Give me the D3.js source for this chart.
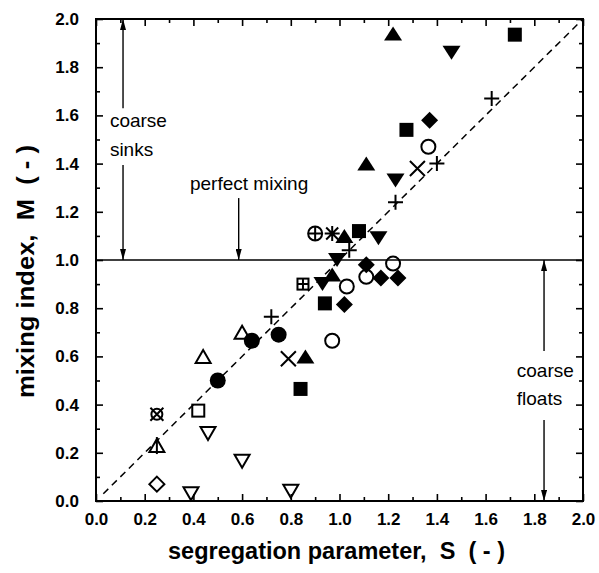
<!DOCTYPE html>
<html>
<head>
<meta charset="utf-8">
<script src="https://cdn.jsdelivr.net/npm/d3@7"></script>
<style>
  body { margin: 0; background: #fff; }
  svg { font-family: Arial, "Liberation Sans", sans-serif; }
</style>
</head>
<body>
<svg id="chart"></svg>
<script>
// tick values
const xTicks = [0, 0.2, 0.4, 0.6, 0.8, 1.0, 1.2, 1.4, 1.6, 1.8, 2.0];
const yTicks = [0, 0.2, 0.4, 0.6, 0.8, 1.0, 1.2, 1.4, 1.6, 1.8, 2.0];
const minorTicks = [0.1, 0.3, 0.5, 0.7, 0.9, 1.1, 1.3, 1.5, 1.7, 1.9];

// data points [S, M] per marker type
const filledSquare = [[0.84, 0.465], [0.94, 0.82], [1.08, 1.12], [1.275, 1.54], [1.72, 1.935]];
const filledCircle = [[0.5, 0.5], [0.64, 0.665], [0.75, 0.69]];
const filledTriUp = [[0.86, 0.6], [0.97, 0.94], [1.02, 1.10], [1.11, 1.40], [1.22, 1.94]];
const filledTriDown = [[0.93, 0.9], [0.99, 1.0], [1.16, 1.09], [1.23, 1.33], [1.46, 1.86]];
const filledDiamond = [[1.02, 0.815], [1.11, 0.98], [1.17, 0.925], [1.24, 0.925], [1.37, 1.58]];
const openCircle = [[0.97, 0.665], [1.03, 0.89], [1.11, 0.93], [1.22, 0.985], [1.365, 1.47]];
const openTriUp = [[0.44, 0.6], [0.6, 0.70]];
const openTriUpLine = [[0.25, 0.23]];
const openTriDown = [[0.39, 0.03], [0.46, 0.28], [0.6, 0.165], [0.8, 0.04]];
const openDiamond = [[0.25, 0.07]];
const openSquare = [[0.42, 0.375]];
const squarePlus = [[0.85, 0.90]];
const circlePlus = [[0.9, 1.11]];
const circleCross = [[0.25, 0.36]];
const asterisk = [[0.97, 1.11]];
const plusMark = [[0.72, 0.765], [1.04, 1.04], [1.23, 1.24], [1.40, 1.40], [1.625, 1.67]];
const crossMark = [[0.79, 0.59], [1.32, 1.38]];

// annotation arrows: x, from, to (head at "to")
const arrows = [
  { x: 0.111, from: 1.63, to: 2.0 },
  { x: 0.111, from: 1.394, to: 1.0 },
  { x: 0.586, from: 1.257, to: 1.0 },
  { x: 1.84, from: 0.622, to: 1.0 },
  { x: 1.84, from: 0.336, to: 0.0 }
];
const notes = [
  { text: "coarse", x: 0.057, y: 1.552 },
  { text: "sinks", x: 0.057, y: 1.432 },
  { text: "perfect mixing", x: 0.386, y: 1.29 },
  { text: "coarse", x: 1.728, y: 0.516 },
  { text: "floats", x: 1.728, y: 0.398 }
];

const margin = { top: 19, right: 16, bottom: 72, left: 96 };
const width = 599 - margin.left - margin.right;
const height = 573 - margin.top - margin.bottom;

const root = d3.select("#chart")
    .attr("width", 599)
    .attr("height", 573);

const svg = root.append("g")
    .attr("transform", `translate(${margin.left},${margin.top})`);

const x = d3.scaleLinear().domain([0, 2]).range([0, width]);
const y = d3.scaleLinear().domain([0, 2]).range([height, 0]);
const fmt = d3.format(".1f");

// axes, ticks pointing inward on all four sides
function styleAxis(g) {
    g.select(".domain").remove();
    g.selectAll("line").attr("stroke", "#000").attr("stroke-width", 1.6);
    g.selectAll("text")
        .attr("fill", "#000")
        .style("font-size", "17px")
        .style("font-weight", "bold")
        .style("font-family", "Arial, 'Liberation Sans', sans-serif");
}

svg.append("g")
    .attr("transform", `translate(0,${height})`)
    .call(d3.axisBottom(x).tickValues(xTicks).tickFormat(fmt).tickSizeInner(-7).tickSizeOuter(0).tickPadding(12))
    .call(styleAxis);
svg.append("g")
    .attr("transform", `translate(0,${height})`)
    .call(d3.axisBottom(x).tickValues(minorTicks).tickFormat("").tickSizeInner(-4).tickSizeOuter(0))
    .call(styleAxis);
svg.append("g")
    .call(d3.axisLeft(y).tickValues(yTicks).tickFormat(fmt).tickSizeInner(-7).tickSizeOuter(0).tickPadding(17))
    .call(styleAxis);
svg.append("g")
    .call(d3.axisLeft(y).tickValues(minorTicks).tickFormat("").tickSizeInner(-4).tickSizeOuter(0))
    .call(styleAxis);
svg.append("g")
    .call(d3.axisTop(x).tickValues(xTicks).tickFormat("").tickSizeInner(-7).tickSizeOuter(0))
    .call(styleAxis);
svg.append("g")
    .call(d3.axisTop(x).tickValues(minorTicks).tickFormat("").tickSizeInner(-4).tickSizeOuter(0))
    .call(styleAxis);
svg.append("g")
    .attr("transform", `translate(${width},0)`)
    .call(d3.axisRight(y).tickValues(yTicks).tickFormat("").tickSizeInner(-7).tickSizeOuter(0))
    .call(styleAxis);
svg.append("g")
    .attr("transform", `translate(${width},0)`)
    .call(d3.axisRight(y).tickValues(minorTicks).tickFormat("").tickSizeInner(-4).tickSizeOuter(0))
    .call(styleAxis);

svg.append("rect")
    .attr("width", width)
    .attr("height", height)
    .attr("fill", "none")
    .attr("stroke", "#000")
    .attr("stroke-width", 2);

// perfect mixing line and M = S diagonal
svg.append("line")
    .attr("x1", x(0)).attr("x2", x(2))
    .attr("y1", y(1)).attr("y2", y(1))
    .attr("stroke", "#000").attr("stroke-width", 1.5);
svg.append("line")
    .attr("x1", x(0.03)).attr("y1", y(0.03))
    .attr("x2", x(2)).attr("y2", y(2))
    .attr("stroke", "#000").attr("stroke-width", 1.5)
    .attr("stroke-dasharray", "7,5");

// arrows
root.append("defs").append("marker")
    .attr("id", "head")
    .attr("markerUnits", "userSpaceOnUse")
    .attr("viewBox", "0 -3 11 6")
    .attr("refX", 11).attr("refY", 0)
    .attr("markerWidth", 11).attr("markerHeight", 6)
    .attr("orient", "auto")
    .append("path")
    .attr("d", "M0,-3L11,0L0,3Z")
    .attr("fill", "#000");

svg.selectAll(".arrow")
    .data(arrows)
    .join("line")
    .attr("class", "arrow")
    .attr("x1", d => x(d.x)).attr("x2", d => x(d.x))
    .attr("y1", d => y(d.from)).attr("y2", d => y(d.to))
    .attr("stroke", "#000").attr("stroke-width", 1.4)
    .attr("marker-end", "url(#head)");

svg.selectAll(".note")
    .data(notes)
    .join("text")
    .attr("class", "note")
    .attr("x", d => x(d.x))
    .attr("y", d => y(d.y))
    .style("font-size", "19px")
    .text(d => d.text);

// marker shapes
const tri = (w, h) => `M0,${-h / 2}L${w / 2},${h / 2}L${-w / 2},${h / 2}Z`;
const shapes = {
    filledSquare: g => g.append("rect").attr("x", -7).attr("y", -7).attr("width", 14).attr("height", 14).attr("fill", "#000"),
    filledCircle: g => g.append("circle").attr("r", 8).attr("fill", "#000"),
    filledTriUp: g => g.append("path").attr("d", tri(18, 14)).attr("fill", "#000"),
    filledTriDown: g => g.append("path").attr("d", tri(18, 14)).attr("transform", "rotate(180)").attr("fill", "#000"),
    filledDiamond: g => g.append("path").attr("d", "M0,-8.5L8.5,0L0,8.5L-8.5,0Z").attr("fill", "#000"),
    openCircle: g => g.append("circle").attr("r", 7),
    openTriUp: g => g.append("path").attr("d", tri(15, 13)),
    openTriUpLine: g => { g.append("path").attr("d", tri(15, 13)); g.append("path").attr("d", "M0,-8.5V8.5"); },
    openTriDown: g => g.append("path").attr("d", tri(15, 13)).attr("transform", "rotate(180)"),
    openDiamond: g => g.append("path").attr("d", "M0,-7.5L7.5,0L0,7.5L-7.5,0Z"),
    openSquare: g => g.append("rect").attr("x", -6).attr("y", -6).attr("width", 12).attr("height", 12),
    squarePlus: g => { g.append("rect").attr("x", -5.5).attr("y", -5.5).attr("width", 11).attr("height", 11); g.append("path").attr("d", "M-5.5,0H5.5M0,-5.5V5.5"); },
    circlePlus: g => { g.append("circle").attr("r", 7); g.append("path").attr("d", "M-7,0H7M0,-7V7"); },
    circleCross: g => { g.append("circle").attr("r", 5.5); g.append("path").attr("d", "M-6.5,-6.5L6.5,6.5M-6.5,6.5L6.5,-6.5"); },
    asterisk: g => g.append("path").attr("d", "M-7.5,0H7.5M0,-7.5V7.5M-6,-6L6,6M-6,6L6,-6"),
    plusMark: g => g.append("path").attr("d", "M-7.5,0H7.5M0,-7.5V7.5"),
    crossMark: g => g.append("path").attr("d", "M-7.5,-7.5L7.5,7.5M-7.5,7.5L7.5,-7.5")
};

const series = [
    ["openTriDown", openTriDown], ["openTriUp", openTriUp], ["openTriUpLine", openTriUpLine],
    ["openDiamond", openDiamond], ["openSquare", openSquare], ["circleCross", circleCross],
    ["squarePlus", squarePlus], ["circlePlus", circlePlus], ["asterisk", asterisk],
    ["plusMark", plusMark], ["crossMark", crossMark], ["openCircle", openCircle],
    ["filledCircle", filledCircle], ["filledSquare", filledSquare], ["filledTriUp", filledTriUp],
    ["filledTriDown", filledTriDown], ["filledDiamond", filledDiamond]
];

series.forEach(([type, data]) => {
    svg.append("g")
        .attr("class", type)
        .attr("fill", "none")
        .attr("stroke", "#000")
        .attr("stroke-width", 2)
        .selectAll("g")
        .data(data)
        .join("g")
        .attr("transform", d => `translate(${x(d[0])},${y(d[1])})`)
        .each(function () { shapes[type](d3.select(this)); });
});
// filled marks carry no outline
svg.selectAll("[fill='#000']").attr("stroke", "none");

// axis titles
root.append("text")
    .attr("x", 168)
    .attr("y", 559)
    .attr("textLength", 337)
    .attr("lengthAdjust", "spacingAndGlyphs")
    .style("font-size", "23px")
    .style("font-weight", "bold")
    .style("white-space", "pre")
    .text("segregation parameter,  S  ( - )");

root.append("text")
    .attr("transform", "translate(34,398) rotate(-90)")
    .attr("textLength", 253)
    .attr("lengthAdjust", "spacingAndGlyphs")
    .style("font-size", "23px")
    .style("font-weight", "bold")
    .style("white-space", "pre")
    .text("mixing index,  M  ( - )");
</script>
</body>
</html>
